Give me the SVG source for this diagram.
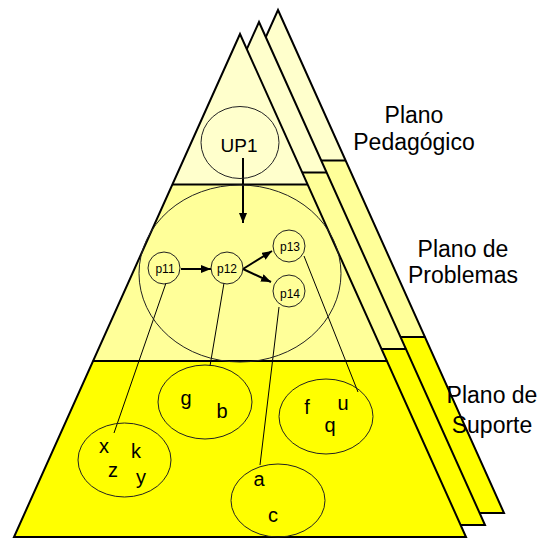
<svg xmlns="http://www.w3.org/2000/svg" width="541" height="539" viewBox="0 0 541 539">
  <style>
    .t { font-family: "Liberation Sans", Arial, sans-serif; fill: #000; }
    .lbl { font-size: 23px; text-anchor: middle; }
    .up { font-size: 19px; text-anchor: middle; }
    .pn { font-size: 12px; text-anchor: middle; }
    .let { font-size: 20px; text-anchor: middle; }
    .ring { fill: none; stroke: #222; stroke-width: 1; }
    .link { stroke: #000; stroke-width: 1; fill: none; }
    .flow { stroke: #000; stroke-width: 2; fill: none; marker-end: url(#head); }
    .edge { stroke: #000; stroke-width: 2; fill: none; stroke-linejoin: miter; }
  </style>
  <defs>
    <marker id="head" viewBox="0 0 10 8" refX="10" refY="4" markerWidth="10" markerHeight="8" markerUnits="userSpaceOnUse" orient="auto">
      <path d="M0,0 L10,4 L0,8 z" fill="#000"/>
    </marker>
    <!-- one layered pyramid: three horizontal bands and an outline -->
    <g id="pyramid">
      <polygon points="240,34 307.7,184.5 172.3,184.5" fill="#FFFFCC"/>
      <polygon points="172.3,184.5 307.7,184.5 387.2,361 92.8,361" fill="#FFFF99"/>
      <polygon points="92.8,361 387.2,361 466,537 14,537" fill="#FFFF00"/>
      <line class="edge" x1="172.3" y1="184.5" x2="307.7" y2="184.5"/>
      <line class="edge" x1="92.8" y1="361" x2="387.2" y2="361"/>
      <polygon class="edge" points="240,34 466,537 14,537"/>
    </g>
  </defs>

  <!-- stacked planes, back to front -->
  <g id="planes">
    <use href="#pyramid" transform="translate(38,-24)"/>
    <use href="#pyramid" transform="translate(19,-12)"/>
    <use href="#pyramid"/>
  </g>

  <!-- plane captions -->
  <g id="captions">
    <text class="t lbl" x="414" y="123">Plano</text>
    <text class="t lbl" x="414" y="150">Pedagógico</text>
    <text class="t lbl" x="463" y="257">Plano de</text>
    <text class="t lbl" x="463" y="283">Problemas</text>
    <text class="t lbl" x="492" y="403">Plano de</text>
    <text class="t lbl" x="492" y="433">Suporte</text>
  </g>

  <!-- connectors -->
  <g id="connectors">
    <line class="flow" x1="243" y1="158" x2="243" y2="223"/>
    <line class="flow" x1="181" y1="269" x2="211" y2="269"/>
    <line class="flow" x1="243" y1="269" x2="272" y2="251"/>
    <line class="flow" x1="243" y1="269" x2="271" y2="282"/>
    <line class="link" x1="166" y1="283" x2="114" y2="433"/>
    <line class="link" x1="224" y1="283" x2="210" y2="366"/>
    <line class="link" x1="279" y1="307" x2="260" y2="465"/>
    <line class="link" x1="304" y1="256" x2="358" y2="392"/>
  </g>

  <g id="UP1">
    <ellipse class="ring" cx="240" cy="142.5" rx="39" ry="36"/>
    <text class="t up" x="239" y="152">UP1</text>
  </g>

  <g id="problems">
    <ellipse class="ring" cx="240" cy="273.5" rx="101" ry="88.5"/>
  </g>

  <g id="p11">
    <circle class="ring" cx="164" cy="268" r="16"/>
    <text class="t pn" x="165" y="273">p11</text>
  </g>
  <g id="p12">
    <circle class="ring" cx="227" cy="268" r="16"/>
    <text class="t pn" x="227" y="273">p12</text>
  </g>
  <g id="p13">
    <circle class="ring" cx="289" cy="246" r="16"/>
    <text class="t pn" x="290" y="251">p13</text>
  </g>
  <g id="p14">
    <circle class="ring" cx="289" cy="291" r="16"/>
    <text class="t pn" x="290" y="298">p14</text>
  </g>

  <g id="xkzy">
    <ellipse class="ring" cx="124.5" cy="460" rx="46.5" ry="37"/>
    <text class="t let" x="104" y="453">x</text>
    <text class="t let" x="136" y="458">k</text>
    <text class="t let" x="113" y="477">z</text>
    <text class="t let" x="141" y="484">y</text>
  </g>
  <g id="gb">
    <ellipse class="ring" cx="205" cy="402" rx="47" ry="37"/>
    <text class="t let" x="186" y="405">g</text>
    <text class="t let" x="222" y="418">b</text>
  </g>
  <g id="fuq">
    <ellipse class="ring" cx="326" cy="416.5" rx="47" ry="37.5"/>
    <text class="t let" x="307" y="414">f</text>
    <text class="t let" x="343" y="410">u</text>
    <text class="t let" x="330" y="432">q</text>
  </g>
  <g id="ac">
    <ellipse class="ring" cx="278" cy="500.5" rx="47" ry="36.5"/>
    <text class="t let" x="259" y="486">a</text>
    <text class="t let" x="273" y="522">c</text>
  </g>
</svg>
